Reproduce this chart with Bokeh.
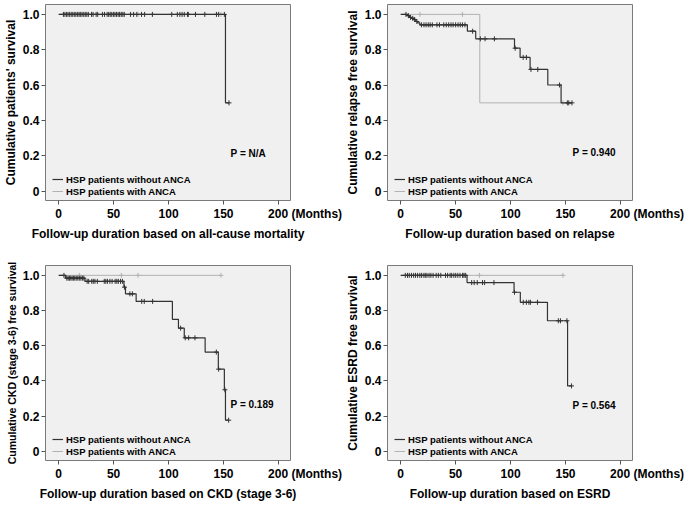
from bokeh.plotting import figure
from bokeh.layouts import gridplot
from bokeh.models import Range1d, FixedTicker, Label, Legend, LegendItem
from bokeh.embed import file_html
from bokeh.resources import INLINE

FONT = "Liberation Sans"

x_ticks = [0, 50, 100, 150, 200]
x_tick_labels = ["0", "50", "100", "150", "200"]
y_ticks = [0, 0.2, 0.4, 0.6, 0.8, 1.0]
y_tick_labels = ["0", "0.2", "0.4", "0.6", "0.8", "1.0"]
legend_labels = ["HSP patients without ANCA", "HSP patients with ANCA"]
months_label = "(Months)"

# ---- Panel 1: all-cause mortality ----
mort_noanca_t = [0, 151.8, 155.0]
mort_noanca_s = [1.0, 0.5, 0.5]
mort_noanca_cens = [4.3, 5.7, 7.2, 8.5, 10.0, 11.4, 12.8, 14.2, 15.6, 17.0, 18.5, 20.0,
                    21.3, 22.8, 24.2, 25.6, 27.0, 29.9, 31.3, 34.1, 35.5, 39.8, 41.7, 44.1,
                    45.5, 46.9, 48.3, 49.8, 51.2, 52.6, 54.1, 55.4, 56.9, 58.4, 59.7, 65.4,
                    68.2, 71.1, 75.4, 78.2, 85.3, 102.9, 108.0, 110.3, 112.3, 114.3, 117.2,
                    118.0, 124.5, 133.0, 143.6, 145.6, 150.8, 155.0]
mort_anca_t = [0, 147.7]
mort_anca_s = [1.0, 1.0]
mort_anca_cens = [18.8, 57.1, 72.2, 147.7]

# ---- Panel 2: relapse ----
rel_noanca_t = [0, 6.2, 8.1, 9.8, 11.9, 13.8, 15.5, 17.5, 60.7, 68.3, 103.6, 108.7,
                117.8, 133.9, 146.0, 156.0]
rel_noanca_s = [1.0, 0.993, 0.983, 0.978, 0.971, 0.960, 0.952, 0.941, 0.905, 0.862,
                0.809, 0.757, 0.689, 0.601, 0.50, 0.50]
rel_noanca_cens = [4.8, 7.0, 9.0, 11.0, 12.7, 14.7, 18.9, 21.2, 23.1, 25.1, 26.8, 28.8,
                   33.0, 35.3, 39.2, 41.5, 43.7, 45.8, 47.7, 50.0, 52.2, 54.2, 56.2, 58.5,
                   65.5, 72.5, 76.8, 85.3, 104.2, 111.5, 114.4, 118.6, 124.8, 144.6,
                   151.7, 153.0, 155.9]
rel_anca_t = [0, 72.0, 147.7]
rel_anca_s = [1.0, 0.5, 0.5]
rel_anca_cens = [17.5, 56.2, 147.7]

# ---- Panel 3: CKD (stage 3-6) ----
ckd_noanca_t = [0, 6.3, 23.9, 59.4, 60.8, 70.5, 103.5, 109.0, 114.3, 133.3, 145.3,
                150.8, 151.8, 154.7]
ckd_noanca_s = [1.0, 0.984, 0.966, 0.933, 0.895, 0.852, 0.750, 0.700, 0.645, 0.564,
                0.467, 0.350, 0.177, 0.177]
ckd_noanca_cens = [4.8, 7.4, 8.6, 9.8, 11.0, 12.2, 13.4, 14.6, 16.0, 17.4, 18.8, 20.2,
                   21.6, 22.9, 25.9, 27.3, 30.1, 31.5, 33.0, 35.2, 41.5, 42.9, 44.4,
                   46.6, 48.6, 51.4, 52.9, 54.3, 56.3, 58.0, 59.9, 64.8, 67.1, 75.6,
                   77.9, 85.5, 111.0, 115.2, 118.3, 124.0, 143.5, 145.6, 151.3, 154.7]
ckd_anca_t = [0, 147.7]
ckd_anca_s = [1.0, 1.0]
ckd_anca_cens = [18.8, 57.1, 72.2, 147.7]

# ---- Panel 4: ESRD ----
esrd_noanca_t = [0, 60.4, 103.2, 108.9, 133.6, 151.9, 155.5]
esrd_noanca_s = [1.0, 0.959, 0.904, 0.847, 0.742, 0.372, 0.372]
esrd_noanca_cens = [4.2, 6.2, 7.8, 9.8, 11.8, 13.5, 15.4, 17.4, 19.1, 21.1, 22.4, 23.9,
                    25.8, 27.5, 29.5, 32.3, 34.3, 36.5, 40.8, 42.7, 45.0, 46.4, 48.4,
                    50.1, 52.0, 54.0, 56.3, 57.7, 59.1, 64.6, 66.9, 69.7, 74.5, 76.4,
                    84.9, 103.6, 111.6, 114.4, 116.7, 118.1, 124.5, 143.5, 145.4, 151.3,
                    155.5]
esrd_anca_t = [0, 147.7]
esrd_anca_s = [1.0, 1.0]
esrd_anca_cens = [18.8, 57.1, 71.7, 147.7]

panels = [
    dict(ylabel="Cumulative patients' survival", ylabel_size="12px",
         xlabel="Follow-up duration based on all-cause mortality", p="P = N/A", p_y=0.214,
         no=(mort_noanca_t, mort_noanca_s, mort_noanca_cens),
         an=(mort_anca_t, mort_anca_s, mort_anca_cens)),
    dict(ylabel="Cumulative relapse free survival", ylabel_size="12px",
         xlabel="Follow-up duration based on relapse", p="P = 0.940", p_y=0.219,
         no=(rel_noanca_t, rel_noanca_s, rel_noanca_cens),
         an=(rel_anca_t, rel_anca_s, rel_anca_cens)),
    dict(ylabel="Cumulative CKD (stage 3-6) free survival", ylabel_size="10.5px",
         xlabel="Follow-up duration based on CKD (stage 3-6)", p="P = 0.189", p_y=0.267,
         no=(ckd_noanca_t, ckd_noanca_s, ckd_noanca_cens),
         an=(ckd_anca_t, ckd_anca_s, ckd_anca_cens)),
    dict(ylabel="Cumulative ESRD free survival", ylabel_size="12px",
         xlabel="Follow-up duration based on ESRD", p="P = 0.564", p_y=0.258,
         no=(esrd_noanca_t, esrd_noanca_s, esrd_noanca_cens),
         an=(esrd_anca_t, esrd_anca_s, esrd_anca_cens)),
]

BLACK = "#333333"
GREY = "#b2b2b2"
Y0, Y1 = -0.052, 1.056
X0, X1 = -12, 211

# last x tick carries the unit text; left-padded with no-break spaces so that
# "200" stays centred on its tick while "(Months)" runs to the right
NBSP = "\u00a0"
x_label_map = {t: lab for t, lab in zip(x_ticks, x_tick_labels)}
x_label_map[x_ticks[-1]] = NBSP * 16 + x_tick_labels[-1] + NBSP + months_label
y_label_map = {t: lab for t, lab in zip(y_ticks, y_tick_labels)}


def surv_at(times, surv, c):
    val = surv[0]
    for t, s in zip(times, surv):
        if t <= c:
            val = s
    return val


def make_panel(cfg, width, height, left, right, top, bottom):
    p = figure(width=width, height=height, output_backend="svg", toolbar_location=None,
               x_range=Range1d(X0, X1), y_range=Range1d(Y0, Y1),
               min_border_left=left, min_border_right=right,
               min_border_top=top, min_border_bottom=bottom)
    p.background_fill_color = "#f0f0f0"
    p.border_fill_color = "white"
    p.outline_line_color = "#7a7a7a"
    p.outline_line_width = 1
    p.grid.visible = False

    rs = {}
    for key, col, lw in (("an", GREY, 1.0), ("no", BLACK, 1.2)):
        t, s, cens = cfg[key]
        r = p.step(t, s, mode="after", line_color=col, line_width=lw)
        cy = [surv_at(t, s, c) for c in cens]
        p.scatter(cens, cy, marker="cross", size=5, line_color=col, line_width=1)
        rs[key] = r

    legend = Legend(items=[LegendItem(label=legend_labels[0], renderers=[rs["no"]]),
                           LegendItem(label=legend_labels[1], renderers=[rs["an"]])],
                    location=(7, 3))
    legend.label_text_font = FONT
    legend.label_text_font_size = "9.5px"
    legend.label_text_font_style = "bold"
    legend.label_text_color = "black"
    legend.label_height = 12
    legend.glyph_height = 12
    legend.glyph_width = 11
    legend.label_standoff = 3
    legend.padding = 0
    legend.margin = 0
    legend.spacing = 0
    legend.border_line_color = None
    legend.background_fill_alpha = 0
    p.add_layout(legend)

    for ax in (p.xaxis[0], p.yaxis[0]):
        ax.axis_line_color = None
        ax.major_tick_line_color = "#555555"
        ax.major_tick_out = 4
        ax.major_tick_in = 0
        ax.minor_tick_line_color = None
        ax.major_label_text_font = FONT
        ax.major_label_text_font_size = "12px"
        ax.major_label_text_font_style = "bold"
        ax.major_label_text_color = "black"
        ax.axis_label_text_font = FONT
        ax.axis_label_text_font_style = "bold"
        ax.axis_label_text_color = "black"
    p.xaxis.major_label_standoff = 2
    p.xaxis.axis_label_standoff = 3
    p.yaxis.major_label_standoff = 2
    p.yaxis.axis_label_standoff = 2
    p.xaxis.ticker = FixedTicker(ticks=x_ticks)
    p.xaxis.major_label_overrides = x_label_map
    p.yaxis.ticker = FixedTicker(ticks=y_ticks)
    p.yaxis.major_label_overrides = y_label_map
    p.xaxis.axis_label = cfg["xlabel"]
    p.xaxis.axis_label_text_font_size = "12px"
    p.yaxis.axis_label = cfg["ylabel"]
    p.yaxis.axis_label_text_font_size = cfg["ylabel_size"]

    p.add_layout(Label(x=156.5, y=cfg["p_y"], text=cfg["p"], text_font=FONT,
                       text_font_size="10px", text_font_style="bold",
                       text_align="left", text_baseline="middle", text_color="black"))
    return p


p1 = make_panel(panels[0], 342, 243, 30, 52, 4, 43)
p2 = make_panel(panels[1], 342, 243, 30, 52, 4, 43)
p3 = make_panel(panels[2], 342, 260, 30, 52, 22, 43)
p4 = make_panel(panels[3], 342, 260, 30, 52, 22, 43)

grid = gridplot([[p1, p2], [p3, p4]], toolbar_location=None)
open("out.html", "w").write(file_html(grid, INLINE))
